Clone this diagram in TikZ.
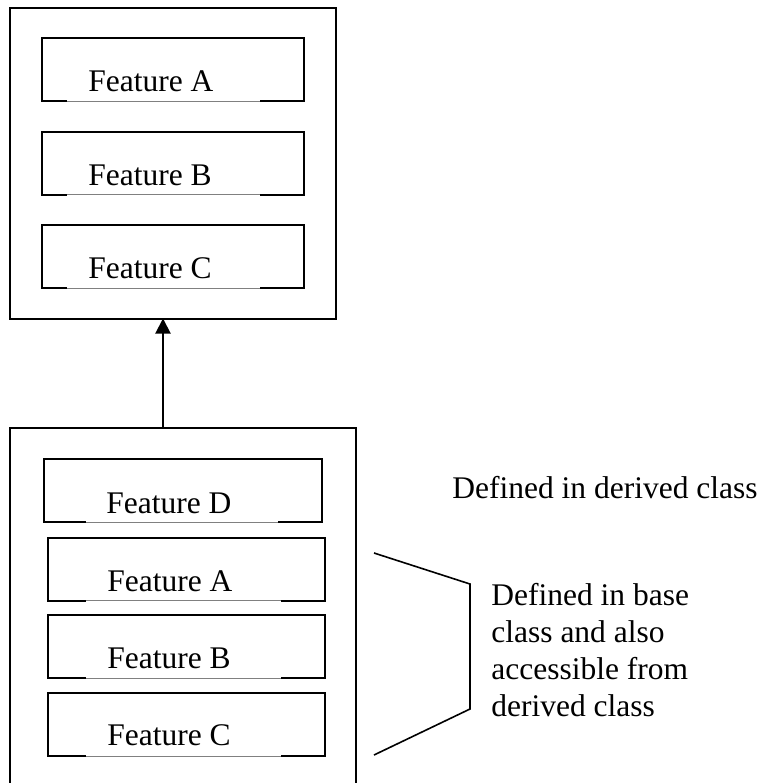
\documentclass[tikz,border=0pt]{standalone}
\usepackage{fontspec}
\setmainfont{Liberation Serif}
\usetikzlibrary{positioning,arrows.meta}

\begin{document}
\begin{tikzpicture}
  [%%%%%%%%%%%%%%%%%%%%%%%%%%%%%%%%%%%%%%%%%%%%%%%%%%%%%%%%%%
    x=0.5pt,y=-0.5pt,>={Triangle[length=7.5pt,width=7.5pt]},
    every node/.style={font=\fontsize{15.75}{18.5}\selectfont},
    classbox/.style={draw,line width=1pt,inner sep=0pt,outer sep=0pt},
    featbox/.style={draw,line width=1pt,inner sep=0pt,outer sep=0pt,
                    minimum height=31.5pt},
    feattext/.style={anchor=base west,inner sep=0pt}
  ]%%%%%%%%%%%%%%%%%%%%%%%%%%%%%%%%%%%%%%%%%%%%%%%%%%%%%%%%%%
  \clip (0,0) rectangle (769,783);

  % base class
  \node[classbox,minimum width=163pt,minimum height=155.5pt] (base) at (173,163) {};
  \node[featbox,minimum width=131pt] (tA) at (173,69.5) {};
  \node[featbox,minimum width=131pt] (tB) at (173,163) {};
  \node[featbox,minimum width=131pt] (tC) at (173,256.5) {};
  \node[feattext] (tAtext) at (88,91) {Feature A};
  \node[feattext] (tBtext) at (88,185) {Feature B};
  \node[feattext] (tCtext) at (88,278) {Feature C};

  % derived class
  \node[classbox,minimum width=173pt,minimum height=186pt] (derived) at (183,614) {};
  \node[featbox,minimum width=139pt] (dD) at (183,490.5) {};
  \node[featbox,minimum width=138.5pt] (dA) at (186.5,569) {};
  \node[featbox,minimum width=138.5pt] (dB) at (186.5,646.5) {};
  \node[featbox,minimum width=138.5pt] (dC) at (186.5,724.5) {};
  \node[feattext] (dDtext) at (106,513) {Feature D};
  \node[feattext] (dAtext) at (107,591) {Feature A};
  \node[feattext] (dBtext) at (107,668) {Feature B};
  \node[feattext] (dCtext) at (107,745) {Feature C};

  % thin middle of the bottom edges
  \foreach \b/\l in {tA/12.5pt,tB/12.5pt,tC/12.5pt,dD/21pt,dA/19pt,dB/19pt,dC/19pt}
  {
    \draw[white,line width=1.2pt] ([xshift=\l]\b.south west) -- ([xshift=-22pt]\b.south east);
    \draw[gray,line width=0.4pt] ([xshift=\l]\b.south west) -- ([xshift=-22pt]\b.south east);
  }

  % inheritance arrow
  \coordinate (ax) at (163,0);
  \draw[->,line width=1pt] (derived.north -| ax) -- (base.south -| ax);

  % notes
  \node[feattext] (derivednote) at (452,498) {Defined in derived class};
  \coordinate (br1) at (374,553);
  \coordinate (br2) at (470,584);
  \coordinate (br3) at (470,709);
  \coordinate (br4) at (374,755);
  \draw[line width=0.8pt] (br1) -- (br2) -- (br3) -- (br4);
  \node[feattext,align=left] (basenote) at (491,716)
    {Defined in base\\class and also\\accessible from\\derived class};
\end{tikzpicture}
\end{document}
